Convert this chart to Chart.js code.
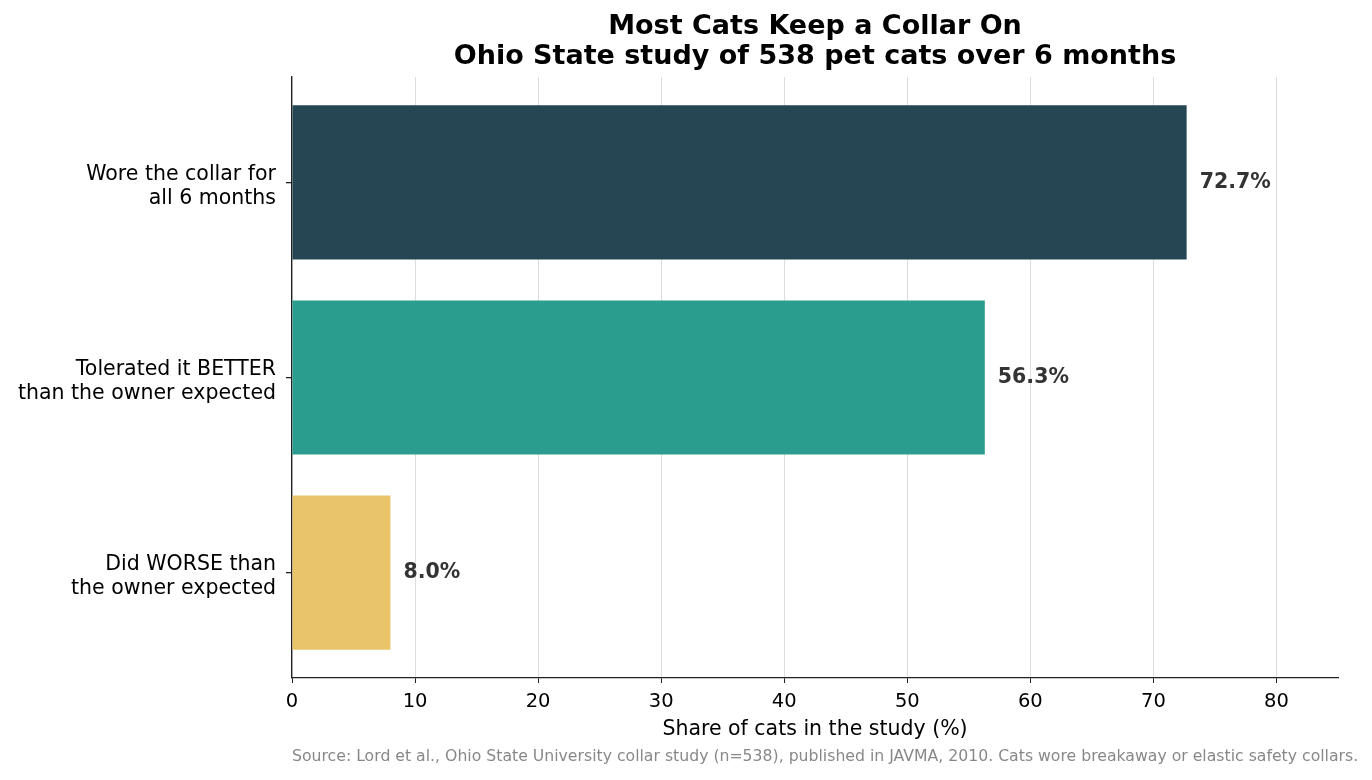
<!DOCTYPE html>
<html>
<head>
<meta charset="utf-8">
<script src="https://cdn.jsdelivr.net/npm/chart.js@4/dist/chart.umd.min.js"></script>
<style>
html,body{margin:0;padding:0;background:#fff;}
#wrap{width:1372px;height:780px;position:relative;}
</style>
</head>
<body>
<div id="wrap"><canvas id="c" width="1372" height="780"></canvas></div>
<script>
const categories = [
  ["Wore the collar for", "all 6 months"],
  ["Tolerated it BETTER", "than the owner expected"],
  ["Did WORSE than", "the owner expected"]
];
const values = [72.7, 56.3, 8.0];
const valueLabels = ["72.7%", "56.3%", "8.0%"];
const barColors = ["#264653", "#2a9d8f", "#e9c46a"];
const xTicks = [0, 10, 20, 30, 40, 50, 60, 70, 80];
const titleLines = ["Most Cats Keep a Collar On", "Ohio State study of 538 pet cats over 6 months"];
const xTitle = "Share of cats in the study (%)";
const sourceText = "Source: Lord et al., Ohio State University collar study (n=538), published in JAVMA, 2010. Cats wore breakaway or elastic safety collars.";

const FONT = "\"DejaVu Sans\", sans-serif";

const textPlugin = {
  id: 'texts',
  afterDraw(chart) {
    const ctx = chart.ctx;
    const area = chart.chartArea;
    const xs = chart.scales.x, ys = chart.scales.y;
    ctx.save();
    ctx.font = "bold 20.5px " + FONT;
    ctx.fillStyle = "#333333";
    ctx.textAlign = "left";
    ctx.textBaseline = "middle";
    values.forEach((v, i) => {
      ctx.fillText(valueLabels[i], xs.getPixelForValue(v) + 13, ys.getPixelForValue(i));
    });
    ctx.font = "bold 27px " + FONT;
    ctx.fillStyle = "#000";
    ctx.textAlign = "center";
    const cx = (area.left + area.right) / 2;
    ctx.fillText(titleLines[0], cx, 27);
    ctx.fillText(titleLines[1], cx, 57);
    ctx.font = "20.5px " + FONT;
    ctx.fillText(xTitle, cx, 730);
    ctx.font = "15.7px " + FONT;
    ctx.fillStyle = "#888888";
    ctx.textAlign = "left";
    ctx.fillText(sourceText, area.left, 757);
    ctx.restore();
  }
};

new Chart(document.getElementById('c'), {
  type: 'bar',
  data: {
    datasets: [{
      data: values.map((v, i) => ({ x: v, y: i })),
      backgroundColor: barColors,
      borderWidth: 0,
      barPercentage: 0.79,
      categoryPercentage: 1.0
    }]
  },
  options: {
    indexAxis: 'y',
    responsive: false,
    animation: false,
    devicePixelRatio: 1,
    layout: { padding: { top: 77, right: 34, left: 0, bottom: 0 } },
    plugins: { legend: { display: false }, tooltip: { enabled: false }, title: { display: false } },
    scales: {
      x: {
        type: 'linear',
        min: 0, max: 85,
        afterFit(s) { s.height = 102; },
        afterBuildTicks(s) { s.ticks = xTicks.map(v => ({ value: v })); },
        ticks: { font: { family: FONT, size: 19.5 }, color: '#000', padding: 7 },
        grid: { color: '#dddddd', lineWidth: 1, tickColor: '#222', tickLength: 5, drawTicks: true },
        border: { display: true, color: '#222', width: 1.3 }
      },
      y: {
        type: 'linear',
        min: -0.54, max: 2.54,
        reverse: true,
        offset: false,
        afterFit(s) { s.width = 292; },
        afterBuildTicks(s) { s.ticks = categories.map((c, i) => ({ value: i })); },
        ticks: {
          font: { family: FONT, size: 20.5, lineHeight: 1.17 },
          color: '#000',
          padding: 10,
          labelOffset: 4,
          callback: (v) => categories[v]
        },
        grid: { offset: false, drawOnChartArea: false, drawTicks: true, tickLength: 6, tickColor: '#222', lineWidth: 1.3 },
        border: { display: true, color: '#222', width: 1.3 }
      }
    }
  },
  plugins: [textPlugin]
});
</script>
</body>
</html>
